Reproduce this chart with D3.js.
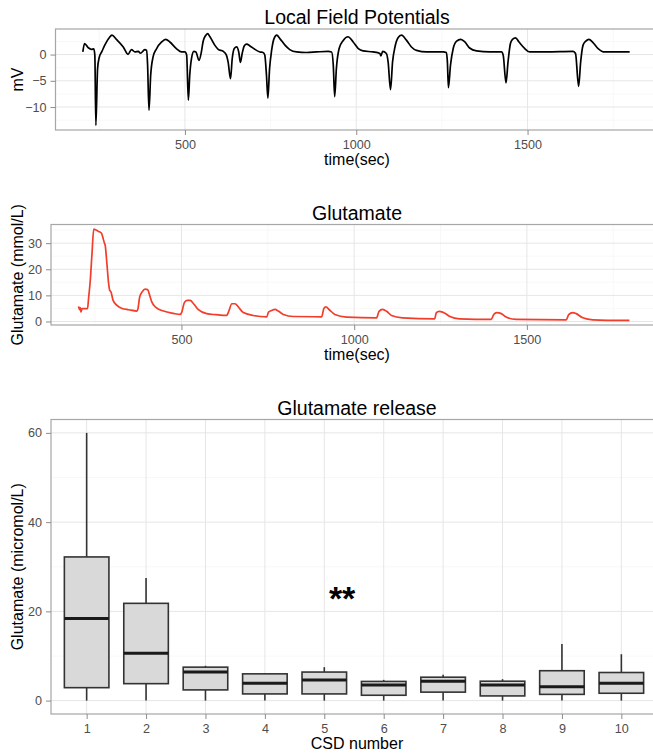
<!DOCTYPE html>
<html><head><meta charset="utf-8">
<script src="https://cdn.jsdelivr.net/npm/d3@7"></script>
<style>
body{margin:0;background:#fff;}
svg{display:block;font-family:"Liberation Sans",Arial,Helvetica,sans-serif;}
</style></head><body>
<svg id="chart" width="653" height="754"></svg>
<script>
// ---- Local field potentials (time in s, mV) ----
const lfpTime = [202,207,218,227,234,237,240,245,250,257,266,279,287,300,320,334,344,354,364,370,383,388,391,395,400,407,417,432,444,456,475,490,500,505,510,514,519,526,532,541,548,553,560,566,573,587,597,612,621,626,633,638,644,651,657,662,667,673,680,690,704,719,728,733,738,742,747,753,760,768,777,792,806,826,855,884,918,928,933,937,942,950,962,976,991,1006,1020,1049,1069,1072,1077,1088,1093,1100,1106,1113,1122,1132,1147,1161,1176,1205,1254,1263,1266,1269,1275,1283,1293,1305,1317,1331,1351,1390,1424,1429,1437,1443,1450,1456,1465,1475,1492,1506,1555,1633,1640,1649,1655,1662,1670,1679,1691,1706,1725,1798];
const lfpMV = [0.5,2.1,1.3,1.0,1.1,-0.1,-13.5,-2.7,-0.5,0.5,1.8,3.2,3.7,2.9,1.45,0.05,0.95,0.5,0.6,0.25,0.95,0.8,-2.0,-10.6,-3.95,-0.45,1.1,2.4,2.9,2.4,1.15,0.5,0.5,-0.1,-8.7,-3.9,-0.8,0.6,0.5,-1.1,0.5,2.5,3.6,4.0,3.4,1.8,1.0,0.6,-0.1,-1.4,-4.6,-0.8,1.15,1.45,0.5,-1.5,0.2,1.65,2.0,1.65,1.0,0.5,0.4,-0.1,-3.95,-8.3,-2.7,0.8,3.05,3.7,3.05,1.8,0.95,0.5,0.4,0.5,0.6,0.5,-2.05,-8.0,-2.7,1.15,2.7,3.4,2.4,1.15,0.7,0.5,0.2,-0.25,0.6,0.2,-1.4,-6.7,-1.4,1.45,3.2,3.7,2.7,1.45,0.8,0.5,0.5,0.4,-1.4,-6.3,-2.05,1.15,2.55,2.9,2.4,1.25,0.7,0.5,0.5,-0.15,-5.4,-1.4,2.1,2.9,3.2,2.4,1.15,0.5,0.5,0.6,0.2,-6.05,-1.4,1.8,2.55,2.9,2.3,1.15,0.5,0.5];

// ---- Glutamate trace (time in s, mmol/L) ----
const gluTime = [202,205,207,209,212,228,231,236,241,246,251,260,268,273,277,279,284,289,292,296,302,313,328,347,371,374,379,386,395,402,408,414,427,448,477,496,501,508,516,525,535,549,573,600,631,636,646,655,665,679,708,747,752,761,771,780,795,824,906,912,918,928,944,978,1065,1072,1082,1094,1108,1140,1233,1238,1246,1256,1265,1277,1305,1397,1404,1413,1426,1440,1469,1614,1621,1633,1643,1662,1691,1797];
const gluConc = [5.8,4.5,5.3,3.6,4.9,4.9,8.8,15.8,26.1,35.4,35.1,34.5,33.9,31.9,30,29.3,22.3,14.6,12,11.3,8.1,6.2,5.0,4.5,4.0,4.9,9.4,11.3,12.4,12.2,10.0,7.5,5.3,4.0,3.1,2.7,3.6,7.1,8.1,8.1,6.8,4.5,3.0,2.6,2.3,3.6,6.8,6.8,5.5,3.4,2.3,1.8,3.6,4.2,4.6,4.0,2.7,1.9,1.8,4.9,5.6,4.5,2.7,1.7,1.4,3.9,4.6,3.9,2.3,1.4,1.0,3.4,3.9,3.6,3.0,1.9,1.0,0.8,2.7,3.4,3.0,1.7,0.8,0.65,2.6,3.4,3.0,1.4,0.65,0.4];

// ---- Glutamate release per CSD (micromol/L) ----
const csdNumber = ["1","2","3","4","5","6","7","8","9","10"];
const whiskerLow = [0,0,0,0,0,0,0,0,0,0];
const q1 = [2.9,3.8,2.4,1.5,1.5,1.2,1.9,1.05,1.4,1.65];
const median = [18.4,10.6,6.4,3.9,4.6,3.5,4.35,3.5,3.1,3.9];
const q3 = [32.2,21.8,7.5,6.0,6.4,4.3,5.25,4.35,6.7,6.3];
const whiskerHigh = [60,27.5,7.8,6.1,7.5,4.65,5.8,4.8,12.7,10.4];
const starLabel = "**";
const starPos = [5.3, 24.5];

// tick values
const timeTicks = [500,1000,1500];
const timeMinor = [250,750,1250,1750];
const lfpTicks = [0,-5,-10];
const lfpMinor = [2.5,-2.5,-7.5,-12.5];
const gluTicks = [0,10,20,30];
const gluMinor = [5,15,25,35];
const relTicks = [0,20,40,60];
const relMinor = [10,30,50];

const svg = d3.select("#chart");
const TICK_COL = "#4d4d4d", GRID_MAJ = "#e6e6e6", GRID_MIN = "#f6f6f6", BORDER = "#a6a6a6";

function expand(lo, hi){ const r = hi-lo; return [lo-0.05*r, hi+0.05*r]; }

function panelFrame(g, x, y, xr, yr, opts){
  if (opts.xMinor) g.selectAll(null).data(opts.xMinor).join("line")
     .attr("x1", d=>x(d)).attr("x2", d=>x(d)).attr("y1", yr[0]).attr("y2", yr[1])
     .attr("stroke", GRID_MIN).attr("stroke-width", 0.8);
  g.selectAll(null).data(opts.yMinor).join("line")
     .attr("x1", xr[0]).attr("x2", xr[1]).attr("y1", d=>y(d)).attr("y2", d=>y(d))
     .attr("stroke", GRID_MIN).attr("stroke-width", 0.8);
  g.selectAll(null).data(opts.xMajor).join("line")
     .attr("x1", d=>x(d)).attr("x2", d=>x(d)).attr("y1", yr[0]).attr("y2", yr[1])
     .attr("stroke", GRID_MAJ).attr("stroke-width", 1);
  g.selectAll(null).data(opts.yMajor).join("line")
     .attr("x1", xr[0]).attr("x2", xr[1]).attr("y1", d=>y(d)).attr("y2", d=>y(d))
     .attr("stroke", GRID_MAJ).attr("stroke-width", 1);
}

function panelAxes(g, x, y, xr, yr, opts){
  g.append("rect").attr("x", xr[0]).attr("y", yr[1]).attr("width", xr[1]-xr[0]).attr("height", yr[0]-yr[1])
    .attr("fill","none").attr("stroke", BORDER).attr("stroke-width", 1.2);
  const xa = g.append("g").attr("transform", `translate(0,${yr[0]})`)
    .call(d3.axisBottom(x).tickValues(opts.xMajor).tickSize(5).tickPadding(5).tickFormat(opts.xFmt || d3.format("d")));
  const ya = g.append("g").attr("transform", `translate(${xr[0]},0)`)
    .call(d3.axisLeft(y).tickValues(opts.yMajor).tickSize(5).tickPadding(4).tickFormat(d3.format("d")));
  [xa, ya].forEach(a => {
    a.select(".domain").remove();
    a.selectAll(".tick line").attr("stroke", "#8c8c8c").attr("stroke-width", 1);
    a.selectAll(".tick text").attr("fill", TICK_COL).style("font-size", "12.6px")
      .style("font-family", '"Liberation Sans",Arial,sans-serif');
  });
  g.append("text").attr("x", 357).attr("y", yr[1]-5).attr("text-anchor","middle")
    .style("font-size","19.5px").attr("fill","#000").text(opts.title);
  g.append("text").attr("x", 357).attr("y", yr[0]+35).attr("text-anchor","middle")
    .style("font-size","16px").attr("fill","#000").text(opts.xTitle);
  g.append("text").attr("transform", `translate(23,${(yr[0]+yr[1])/2}) rotate(-90)`)
    .attr("text-anchor","middle").style("font-size","16px").attr("fill","#000").text(opts.yTitle);
}

// ---------- Panel 1: LFP ----------
{
  const g = svg.append("g");
  const xr = [55.5, 657], yr = [130, 29];
  const x = d3.scaleLinear().domain(expand(d3.min(lfpTime), d3.max(lfpTime))).range(xr);
  const y = d3.scaleLinear().domain(expand(d3.min(lfpMV), d3.max(lfpMV))).range(yr);
  const opts = {xMajor: timeTicks, xMinor: timeMinor, yMajor: lfpTicks, yMinor: lfpMinor,
    title: "Local Field Potentials", xTitle: "time(sec)", yTitle: "mV"};
  panelFrame(g, x, y, xr, yr, opts);
  const line = d3.line().x(i=>x(lfpTime[i])).y(i=>y(lfpMV[i])).curve(d3.curveMonotoneX);
  g.append("path").attr("d", line(d3.range(lfpTime.length))).attr("fill","none")
    .attr("stroke","#000").attr("stroke-width",1.7).attr("stroke-linejoin","round");
  panelAxes(g, x, y, xr, yr, opts);
}

// ---------- Panel 2: Glutamate ----------
{
  const g = svg.append("g");
  const xr = [51, 657], yr = [325, 224.5];
  const x = d3.scaleLinear().domain(expand(d3.min(gluTime), d3.max(gluTime))).range(xr);
  const y = d3.scaleLinear().domain(expand(d3.min(gluConc), d3.max(gluConc))).range(yr);
  const opts = {xMajor: timeTicks, xMinor: timeMinor, yMajor: gluTicks, yMinor: gluMinor,
    title: "Glutamate", xTitle: "time(sec)", yTitle: "Glutamate (mmol/L)"};
  panelFrame(g, x, y, xr, yr, opts);
  const line = d3.line().x(i=>x(gluTime[i])).y(i=>y(gluConc[i])).curve(d3.curveMonotoneX);
  g.append("path").attr("d", line(d3.range(gluTime.length))).attr("fill","none")
    .attr("stroke","#f23d2a").attr("stroke-width",1.7).attr("stroke-linejoin","round");
  panelAxes(g, x, y, xr, yr, opts);
}

// ---------- Panel 3: Glutamate release boxplots ----------
{
  const g = svg.append("g");
  const xr = [51, 657], yr = [714, 419.5];
  const n = csdNumber.length;
  const xi = d3.scaleLinear().domain([0.4, n + 0.6]).range(xr);
  const yLo = d3.min(whiskerLow), yHi = d3.max(whiskerHigh);
  const y = d3.scaleLinear().domain(expand(yLo, yHi)).range(yr);
  const xband = d3.scalePoint().domain(csdNumber).range([xi(1), xi(n)]);
  const opts = {xMajor: csdNumber, yMajor: relTicks, yMinor: relMinor,
    title: "Glutamate release", xTitle: "CSD number", yTitle: "Glutamate (micromol/L)", xFmt: d=>d};
  panelFrame(g, xband, y, xr, yr, opts);
  const bw = 0.75 * (xband(csdNumber[1]) - xband(csdNumber[0]));
  const boxes = g.selectAll(".box").data(d3.range(n)).join("g").attr("class","box");
  boxes.append("line").attr("x1", i=>xband(csdNumber[i])).attr("x2", i=>xband(csdNumber[i]))
    .attr("y1", i=>y(q3[i])).attr("y2", i=>y(whiskerHigh[i])).attr("stroke","#333").attr("stroke-width",1.6);
  boxes.append("line").attr("x1", i=>xband(csdNumber[i])).attr("x2", i=>xband(csdNumber[i]))
    .attr("y1", i=>y(q1[i])).attr("y2", i=>y(whiskerLow[i])).attr("stroke","#333").attr("stroke-width",1.6);
  boxes.append("rect").attr("x", i=>xband(csdNumber[i]) - bw/2).attr("width", bw)
    .attr("y", i=>y(q3[i])).attr("height", i=>y(q1[i]) - y(q3[i]))
    .attr("fill","#d9d9d9").attr("stroke","#333").attr("stroke-width",1.6);
  boxes.append("line").attr("x1", i=>xband(csdNumber[i]) - bw/2).attr("x2", i=>xband(csdNumber[i]) + bw/2)
    .attr("y1", i=>y(median[i])).attr("y2", i=>y(median[i])).attr("stroke","#1a1a1a").attr("stroke-width",3);
  g.append("text").attr("x", xi(starPos[0])).attr("y", y(starPos[1]) + 19)
    .attr("text-anchor","middle").style("font-size","34px").style("font-weight","bold")
    .attr("fill","#000").text(starLabel);
  panelAxes(g, xband, y, xr, yr, opts);
}
</script>
</body></html>
